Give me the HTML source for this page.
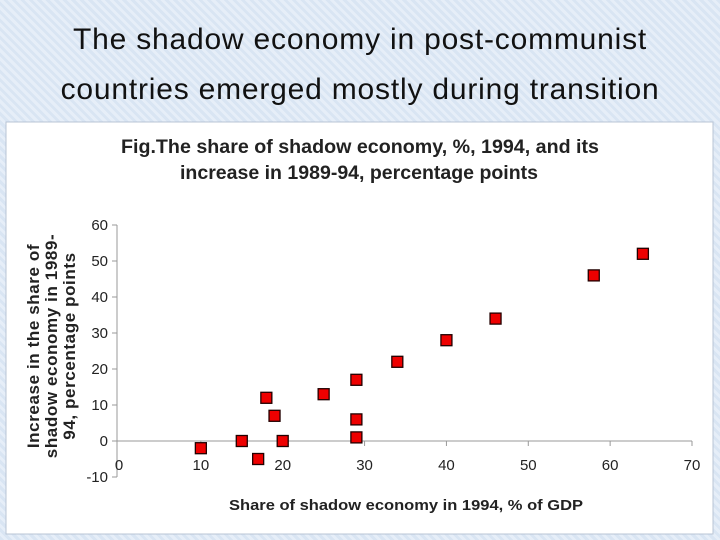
<!DOCTYPE html>
<html><head><meta charset="utf-8"><style>
body{margin:0;width:720px;height:540px;overflow:hidden;background:#dce7f4;font-family:"Liberation Sans",sans-serif;}
.t{position:absolute;left:0;width:720px;text-align:center;font-size:30px;letter-spacing:0.8px;color:#111;}
</style></head><body>
<div style="position:absolute;left:0;top:0;width:720px;height:540px;background:repeating-linear-gradient(45deg,#d9e5f3 0 3px,#e6eef8 3px 6px);"></div>
<div class="t" style="top:23px;">The shadow economy in post-communist</div>
<div class="t" style="top:73px;">countries emerged mostly during transition</div>
<svg id="c" width="720" height="540" style="position:absolute;left:0;top:0" font-family="Liberation Sans, sans-serif">
<rect x="6" y="122" width="707" height="412" fill="#fff" stroke="#b8c4d4"/>
<text x="360" y="153" text-anchor="middle" font-size="19" font-weight="bold" fill="#222" textLength="478" lengthAdjust="spacingAndGlyphs">Fig.The share of shadow economy, %,  1994, and its</text>
<text x="359" y="179" text-anchor="middle" font-size="19" font-weight="bold" fill="#222" textLength="358" lengthAdjust="spacingAndGlyphs">increase in 1989-94, percentage points</text>
<g transform="translate(51,346) rotate(-90)" font-size="17" font-weight="bold" fill="#222" text-anchor="middle" letter-spacing="0.6">
<text x="0" y="-12">Increase in the share of</text>
<text x="0" y="6">shadow economy in 1989-</text>
<text x="0" y="24">94, percentage points</text>
</g>
<text x="406" y="510" text-anchor="middle" font-size="15" font-weight="bold" fill="#222" textLength="354" lengthAdjust="spacingAndGlyphs">Share of shadow economy in 1994, % of GDP</text>
<g id="ax"></g><g id="pts"></g>
</svg>
<script>
const xTicks=[0,10,20,30,40,50,60,70];
const yTicks=[-10,0,10,20,30,40,50,60];
const shareX=[10,15,17,18,19,20,25,29,29,29,34,40,46,58,64];
const increaseY=[-2,0,-5,12,7,0,13,17,6,1,22,28,34,46,52];
const NS="http://www.w3.org/2000/svg";
const sx=v=>119+v*(692-119)/70;
const sy=v=>441-v*3.6;
function mk(t,a,p){const e=document.createElementNS(NS,t);for(const k in a)e.setAttribute(k,a[k]);p.appendChild(e);return e;}
const ax=document.getElementById('ax');
const yl=mk('line',{x1:117,x2:117,y1:sy(60),y2:sy(-10),stroke:'#999'},ax);


const xl=mk('line',{x1:117,x2:sx(70),y1:sy(0),y2:sy(0),stroke:'#999'},ax);


yTicks.forEach(v=>{
  mk('line',{x1:112,x2:117,y1:sy(v),y2:sy(v),stroke:'#999'},ax);
  const t=mk('text',{x:108,y:sy(v)+5,'text-anchor':'end','font-size':15,fill:'#222'},ax);
  t.textContent=v;
  
  
});
xTicks.forEach(v=>{
  if(v>0)mk('line',{x1:sx(v),x2:sx(v),y1:sy(0),y2:sy(0)+5,stroke:'#999'},ax);
  const t=mk('text',{x:sx(v),y:470,'text-anchor':'middle','font-size':15,fill:'#222'},ax);
  t.textContent=v;
  
  
});
const pts=document.getElementById('pts');
shareX.forEach((x,i)=>{
  const r=mk('rect',{x:sx(x)-5.5,y:sy(increaseY[i])-5.5,width:11,height:11,fill:'#e00',stroke:'#200','stroke-width':1.3},pts);
  
  
});
</script>
</body></html>
